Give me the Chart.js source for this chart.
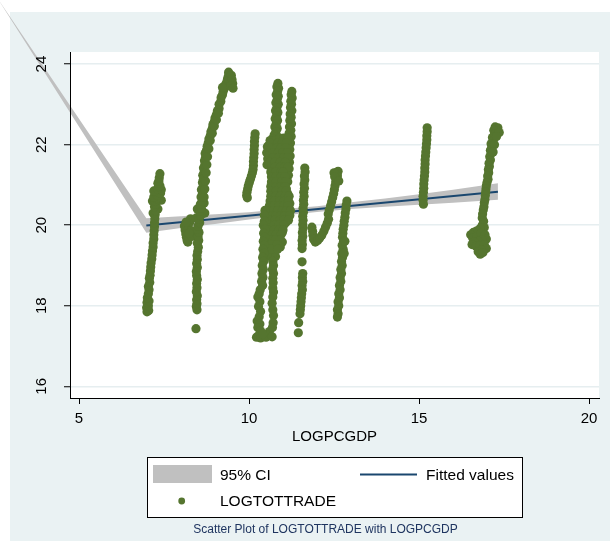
<!DOCTYPE html>
<html>
<head>
<meta charset="utf-8">
<script src="https://cdn.jsdelivr.net/npm/chart.js@4"></script>
<style>
  html, body { margin: 0; padding: 0; background: #ffffff; }
  #wrap { width: 610px; height: 541px; }
</style>
</head>
<body>
<div id="wrap"><canvas id="c" width="610" height="541"></canvas></div>
<script>
// Axis ticks
const xTicks = [5, 10, 15, 20];
const yTicks = [16, 18, 20, 22, 24];

// Linear fit of LOGTOTTRADE on LOGPCGDP
const fitX = [6.98, 17.32];
const fitY = [19.99, 20.83];

// 95% confidence band (first entry is the stray lead-in vertex of the band)
const ciX     = [2.55, 6.98, 8, 9, 10, 11, 12, 13, 14, 15, 16, 17.32];
const ciUpper = [25.70, 20.17, 20.22, 20.27, 20.32, 20.40, 20.47, 20.57, 20.66, 20.77, 20.88, 21.04];
const ciLower = [25.70, 19.81, 19.93, 20.03, 20.14, 20.24, 20.33, 20.40, 20.46, 20.51, 20.56, 20.63];

// Observations [LOGPCGDP, LOGTOTTRADE], grouped by income band
const tradeNear7 = [
  [7.00,17.85],[7.05,17.88],[6.99,17.95],[7.04,18.00],[7.00,18.08],[7.06,18.12],[7.01,18.20],[7.04,18.30],
  [7.06,18.40],[7.04,18.48],[7.08,18.58],[7.07,18.68],[7.09,18.76],[7.10,18.86],[7.11,18.96],[7.12,19.06],
  [7.14,19.16],[7.15,19.26],[7.16,19.36],[7.18,19.46],[7.18,19.56],[7.20,19.66],[7.20,19.76],[7.21,19.86],
  [7.22,19.96],[7.22,20.06],[7.23,20.16],[7.18,20.30],[7.24,20.26],[7.32,20.40],[7.25,20.36],[7.22,20.46],
  [7.26,20.52],[7.16,20.60],[7.42,20.62],[7.24,20.60],[7.28,20.66],[7.20,20.70],[7.30,20.74],[7.27,20.82],
  [7.40,20.80],[7.20,20.85],[7.42,20.88],[7.31,20.90],[7.34,20.96],[7.38,20.98],[7.32,21.04],[7.35,21.10],
  [7.36,21.18],[7.38,21.28]
];

const tradeNear8 = [
  [8.10,19.98],[8.12,19.88],[8.14,19.78],[8.16,19.70],[8.18,19.62],[8.20,19.58],[8.22,19.92],[8.26,20.08],
  [8.28,20.16],[8.30,19.86],[8.15,20.08],[8.32,19.72],[8.24,19.80],
  [8.44,17.43],[8.47,17.90],[8.45,17.98],[8.47,18.05],[8.46,18.15],[8.48,18.25],[8.45,18.35],[8.47,18.45],
  [8.46,18.55],[8.48,18.65],[8.46,18.75],[8.45,18.85],[8.48,18.95],[8.46,19.05],[8.48,19.15],[8.47,19.25],
  [8.49,19.35],[8.51,19.45],[8.48,19.55],[8.52,19.62],[8.50,19.72],[8.53,19.82],[8.49,19.90],
  [8.50,19.98],[8.55,20.06],[8.45,20.18],[8.52,20.15],[8.70,20.30],[8.58,20.24],[8.48,20.40],[8.55,20.34],
  [8.68,20.55],[8.60,20.42],[8.57,20.52],[8.62,20.60],[8.59,20.70],[8.63,20.78],[8.60,20.88],[8.65,20.96],
  [8.63,21.06],[8.66,21.14],[8.64,21.24],[8.68,21.32],[8.66,21.42],[8.70,21.50],[8.69,21.60],[8.72,21.68],
  [8.71,21.78],[8.75,21.86],[8.77,21.96],[8.80,22.04],[8.82,22.14],[8.86,22.22],[8.88,22.32],[8.92,22.40],
  [8.94,22.50],[8.98,22.57],[9.00,22.66],[9.04,22.74],[9.07,22.84],[9.12,22.90],[9.12,23.00],[9.17,23.07],
  [9.18,23.17],[9.22,23.24],[9.24,23.32],[9.28,23.40],[9.30,23.48],[9.34,23.54],[9.37,23.64],[9.40,23.72],
  [9.40,23.80],[9.48,23.72],[9.50,23.62],[9.52,23.52],[9.46,23.46],[9.53,23.40],[9.22,23.42],
  [8.68,20.70],[8.70,20.90],[8.72,21.10],[8.74,21.30],[8.76,21.50],[8.78,21.70],[8.82,21.90],[8.86,22.10],
  [8.92,22.28],[8.98,22.46],[9.04,22.62],[9.10,22.78]
];

const tradeNear10 = [
  [10.18,22.27],[10.17,22.18],[10.16,22.08],[10.16,21.98],[10.15,21.88],[10.15,21.78],[10.14,21.68],
  [10.13,21.58],[10.13,21.48],[10.12,21.38],[10.10,21.30],[10.07,21.22],[10.04,21.14],[10.01,21.06],
  [9.98,20.98],[9.96,20.90],[9.94,20.82],[9.93,20.74],[9.95,20.68]
];

const tradeNear11 = [
  [10.85,23.52],[10.82,23.44],[10.87,23.40],[10.84,23.32],[10.80,23.24],[10.86,23.20],[10.83,23.12],
  [10.79,23.04],[10.86,23.00],[10.82,22.92],[10.78,22.84],[10.85,22.80],[10.81,22.72],[10.77,22.64],
  [10.84,22.60],[10.80,22.52],[10.76,22.44],[10.83,22.40],[10.79,22.32],[10.74,22.24],[10.82,22.20],
  [10.70,22.15],[10.78,22.12],[10.68,22.05],
  [11.26,23.32],[11.24,23.24],[11.27,23.16],[11.23,23.08],[11.25,23.00],[11.22,22.92],[11.26,22.84],
  [11.21,22.76],[11.24,22.68],[11.20,22.60],[11.25,22.52],[11.19,22.44],[11.23,22.36],[11.18,22.28],
  [11.24,22.20],[11.17,22.12],[11.22,22.04],[11.15,21.96],[11.20,21.88],[11.14,21.80],[11.21,21.72],
  [11.13,21.64],[11.19,21.56],[11.12,21.48],[11.18,21.40],[11.10,21.32],[11.16,21.24],[11.08,21.16],
  [11.14,21.08],[11.06,21.00],
  [10.54,21.95],[10.52,21.80],[10.55,21.65],[10.53,21.50],
  [10.62,22.10],[10.75,22.10],[10.90,22.10],[11.05,22.10],
  [10.58,21.98],[10.72,21.98],[10.88,21.98],[11.02,21.98],[11.12,21.98],
  [10.64,21.86],[10.80,21.86],[10.95,21.86],[11.08,21.86],
  [10.60,21.74],[10.74,21.74],[10.90,21.74],[11.04,21.74],
  [10.66,21.62],[10.82,21.62],[10.97,21.62],[11.09,21.62],
  [10.70,21.50],[10.85,21.50],[11.00,21.50],
  [10.68,21.38],[10.82,21.38],[10.96,21.38],[11.06,21.38],
  [10.72,21.26],[10.88,21.26],[11.02,21.26],
  [10.70,21.14],[10.84,21.14],[10.98,21.14],
  [10.74,21.02],[10.90,21.02],[11.02,21.02],
  [10.71,20.90],[10.86,20.90],[11.00,20.90],[11.10,20.90],
  [10.72,20.78],[10.88,20.78],[11.04,20.78],[11.14,20.78],
  [10.70,20.66],[10.84,20.66],[10.98,20.66],[11.12,20.66],
  [10.68,20.54],[10.82,20.54],[10.96,20.54],[11.10,20.54],[11.20,20.54],
  [10.66,20.42],[10.80,20.42],[10.94,20.42],[11.08,20.42],[11.18,20.42],
  [10.62,20.30],[10.76,20.30],[10.90,20.30],[11.04,20.30],[11.16,20.30],
  [10.58,20.18],[10.72,20.18],[10.86,20.18],[11.00,20.18],[11.12,20.18],
  [10.55,20.06],[10.68,20.06],[10.82,20.06],[10.96,20.06],[11.08,20.06],
  [10.52,19.94],[10.66,19.94],[10.80,19.94],[10.94,19.94],
  [10.56,19.82],[10.70,19.82],[10.84,19.82],[10.98,19.82],
  [10.58,19.70],[10.72,19.70],[10.88,19.70],
  [10.55,19.58],[10.70,19.58],[10.85,19.58],[10.98,19.58],
  [10.60,19.46],[10.76,19.46],[10.92,19.46],
  [10.58,19.34],[10.74,19.34],
  [10.62,19.22],[10.78,19.22],
  [10.90,22.16],[11.02,22.16],[11.14,22.16],
  [10.64,22.04],[10.84,22.04],[10.98,22.04],[11.10,22.04],
  [10.66,21.92],[10.82,21.92],[10.94,21.92],[11.08,21.92],
  [10.70,21.80],[10.86,21.80],[10.99,21.80],[11.12,21.80],
  [10.72,21.68],[10.88,21.68],[11.02,21.68],[11.14,21.68],
  [10.62,21.56],[10.76,21.56],[10.92,21.56],[11.06,21.56],
  [10.76,21.44],[10.92,21.44],[11.04,21.44],[11.14,21.44],
  [10.64,21.32],[10.78,21.32],[10.94,21.32],[11.00,21.32],
  [10.66,21.20],[10.80,21.20],[10.94,21.20],[11.06,21.20],
  [10.66,21.08],[10.80,21.08],[10.96,21.08],[11.08,21.08],
  [10.64,20.96],[10.80,20.96],[10.94,20.96],[11.06,20.96],
  [10.64,20.84],[10.80,20.84],[10.96,20.84],[11.08,20.84],
  [10.64,20.72],[10.78,20.72],[10.92,20.72],[11.06,20.72],[11.18,20.72],
  [10.62,20.60],[10.76,20.60],[10.90,20.60],[11.04,20.60],[11.16,20.60],
  [10.60,20.48],[10.74,20.48],[10.88,20.48],[11.02,20.48],[11.14,20.48],
  [10.56,20.36],[10.70,20.36],[10.84,20.36],[10.98,20.36],[11.10,20.36],[11.22,20.36],
  [10.52,20.24],[10.66,20.24],[10.80,20.24],[10.94,20.24],[11.06,20.24],[11.20,20.24],
  [10.50,20.12],[10.62,20.12],[10.76,20.12],[10.90,20.12],[11.02,20.12],[11.16,20.12],
  [10.60,20.00],[10.74,20.00],[10.88,20.00],[11.02,20.00],
  [10.58,19.88],[10.74,19.88],[10.88,19.88],[11.00,19.88],
  [10.64,19.76],[10.80,19.76],[10.94,19.76],
  [10.62,19.64],[10.78,19.64],[10.92,19.64],
  [10.66,19.52],[10.82,19.52],
  [10.66,19.40],[10.84,19.40],
  [10.47,20.37],[10.45,20.25],
  [10.45,20.10],[10.42,20.00],[10.47,19.90],[10.43,19.80],[10.46,19.70],[10.42,19.60],[10.45,19.50],
  [10.41,19.40],[10.44,19.30],[10.40,19.20],[10.43,19.10],[10.39,19.00],[10.42,18.90],[10.38,18.80],
  [10.41,18.70],[10.37,18.60],[10.40,18.50],[10.33,18.40],[10.30,18.30],
  [10.26,18.22],[10.32,18.10],[10.28,17.98],[10.34,17.86],[10.30,17.73],[10.24,17.62],[10.32,17.55],
  [10.26,17.46],[10.34,17.38],[10.30,17.28],[10.22,17.22],[10.34,17.20],[10.56,17.28],[10.50,17.22],
  [10.60,17.36],[10.40,17.30],
  [10.70,19.10],[10.72,19.00],[10.69,18.90],[10.72,18.80],[10.70,18.68],[10.71,18.57],[10.70,18.44],
  [10.72,18.34],[10.70,18.22],[10.68,18.06],[10.70,17.90],[10.72,17.76],[10.71,17.58],[10.69,17.46],
  [10.68,17.23]
];

const tradeNear12 = [
  [11.64,21.42],[11.65,21.32],[11.63,21.22],[11.64,21.12],[11.62,21.02],[11.63,20.92],[11.61,20.82],
  [11.62,20.72],[11.60,20.62],[11.61,20.52],[11.59,20.42],[11.60,20.32],[11.58,20.22],[11.59,20.12],
  [11.58,20.02],[11.59,19.92],[11.57,19.82],[11.58,19.72],[11.56,19.62],[11.57,19.52],[11.56,19.42],
  [11.56,19.09],
  [11.58,18.80],[11.57,18.70],[11.58,18.60],[11.56,18.50],[11.57,18.40],[11.55,18.30],[11.54,18.20],
  [11.53,18.10],[11.52,18.00],[11.51,17.90],[11.50,17.80],[11.46,17.58],[11.45,17.33],
  [11.85,19.95],[11.87,19.85],[11.88,19.75],[11.90,19.65],[11.95,19.58],[12.02,19.62],[12.08,19.68],
  [12.14,19.75],[12.20,19.85],[12.25,19.95],[12.30,20.05],[12.34,20.15],
  [12.33,20.28],[12.36,20.38],[12.40,20.48],[12.43,20.58],[12.46,20.68],[12.49,20.78],[12.51,20.88],
  [12.53,20.98],[12.55,21.08],[12.57,21.18],[12.59,21.28],[12.62,21.34],[12.56,21.30],[12.60,21.22],
  [12.50,21.30],[12.52,21.20],[12.64,21.10],
  [12.88,20.60],[12.86,20.50],[12.85,20.40],[12.83,20.30],[12.82,20.20],[12.80,20.10],[12.79,20.00],
  [12.77,19.90],[12.76,19.80],[12.75,19.70],[12.78,19.60],[12.74,19.50],[12.77,19.40],[12.73,19.30],
  [12.75,19.20],[12.72,19.10],[12.74,19.00],[12.70,18.90],[12.72,18.80],[12.68,18.70],[12.70,18.60],
  [12.66,18.50],[12.68,18.40],[12.64,18.30],[12.66,18.20],[12.62,18.10],[12.64,18.00],[12.60,17.90],
  [12.62,17.80],[12.60,17.72],[12.82,19.60],[12.80,19.30]
];

const tradeNear15 = [
  [15.24,22.42],[15.24,22.32],[15.23,22.22],[15.23,22.12],[15.22,22.02],[15.21,21.92],[15.20,21.82],
  [15.19,21.72],[15.18,21.62],[15.18,21.52],[15.17,21.42],[15.17,21.32],[15.16,21.22],[15.15,21.12],
  [15.14,21.02],[15.14,20.92],[15.13,20.82],[15.12,20.72],[15.12,20.62],[15.13,20.52]
];

const tradeNear17 = [
  [17.32,22.42],[17.24,22.44],[17.30,22.34],[17.20,22.36],[17.22,22.26],[17.16,22.18],[17.18,22.10],
  [17.12,22.02],[17.14,21.94],[17.10,21.86],[17.12,21.78],[17.08,21.70],[17.10,21.62],[17.06,21.54],
  [17.07,21.46],[17.04,21.38],[17.05,21.30],[17.02,21.22],[17.03,21.14],[17.00,21.06],[16.98,20.98],
  [16.97,20.90],[16.96,20.82],[16.95,20.74],[16.94,20.64],[16.92,20.56],[16.91,20.46],[16.89,20.38],
  [16.87,20.28],[16.86,20.18],
  [17.36,22.30],[17.28,22.20],[17.22,22.00],[17.18,21.82],
  [16.90,20.10],[16.86,20.00],[16.92,19.94],[16.80,19.92],[16.70,19.86],[16.60,19.82],[16.52,19.76],
  [16.58,19.68],[16.70,19.72],[16.82,19.80],[16.94,19.76],[16.98,19.66],[16.86,19.64],[16.74,19.60],
  [16.62,19.58],[16.56,19.52],[16.68,19.48],[16.80,19.50],[16.92,19.52],[16.98,19.42],[16.84,19.38],
  [16.74,19.34],[16.80,19.28],[16.88,19.32]
];

const captionText = 'Scatter Plot of LOGTOTTRADE with LOGPCGDP';

const GREEN = '#55752f';
const NAVY = '#1a476f';
const CI_GRAY = '#c0c0c0';
const PANEL = '#eaf2f3';
const FONT = '"Liberation Sans", Arial, Helvetica, sans-serif';

const trade = [].concat(tradeNear7, tradeNear8, tradeNear10, tradeNear11, tradeNear12, tradeNear15, tradeNear17)
  .map(([x, y]) => ({ x, y }));

// Graph region and white plot region
const backdrop = {
  id: 'backdrop',
  beforeDraw(chart) {
    const { ctx, chartArea: a } = chart;
    ctx.save();
    ctx.fillStyle = '#ffffff';
    ctx.fillRect(0, 0, chart.width, chart.height);
    ctx.fillStyle = PANEL;
    ctx.fillRect(10, 12, chart.width - 10, chart.height - 12);
    ctx.fillStyle = '#ffffff';
    ctx.fillRect(a.left, a.top, a.right - a.left, a.bottom - a.top);
    ctx.restore();
  }
};

// Confidence band polygon, not clipped to the plot region
const ciBand = {
  id: 'ciBand',
  beforeDatasetsDraw(chart) {
    const { ctx, scales: { x, y } } = chart;
    ctx.save();
    ctx.beginPath();
    ciX.forEach((v, i) => {
      const px = x.getPixelForValue(v), py = y.getPixelForValue(ciUpper[i]);
      if (i === 0) ctx.moveTo(px, py); else ctx.lineTo(px, py);
    });
    for (let i = ciX.length - 1; i >= 0; i--) {
      ctx.lineTo(x.getPixelForValue(ciX[i]), y.getPixelForValue(ciLower[i]));
    }
    ctx.closePath();
    ctx.fillStyle = CI_GRAY;
    ctx.fill();
    ctx.restore();
  }
};

// Framed legend and caption under the plot
const legendBox = {
  id: 'legendBox',
  afterDraw(chart) {
    const ctx = chart.ctx;
    ctx.save();
    ctx.fillStyle = '#ffffff';
    ctx.fillRect(147, 457, 375, 60);
    ctx.strokeStyle = '#000000';
    ctx.lineWidth = 1;
    ctx.strokeRect(147.5, 457.5, 375, 60);

    ctx.fillStyle = CI_GRAY;
    ctx.fillRect(153, 465, 59, 18);

    ctx.strokeStyle = NAVY;
    ctx.lineWidth = 2;
    ctx.beginPath();
    ctx.moveTo(360, 474.5);
    ctx.lineTo(417, 474.5);
    ctx.stroke();

    ctx.fillStyle = GREEN;
    ctx.beginPath();
    ctx.arc(181.7, 501, 3.4, 0, Math.PI * 2);
    ctx.fill();

    ctx.fillStyle = '#000000';
    ctx.font = '15.5px ' + FONT;
    ctx.textAlign = 'left';
    ctx.textBaseline = 'middle';
    ctx.fillText('95% CI', 220, 475.5);
    ctx.fillText('Fitted values', 426, 475.5);
    ctx.fillText('LOGTOTTRADE', 220, 502);

    ctx.fillStyle = '#1f3560';
    ctx.font = '12px ' + FONT;
    ctx.textAlign = 'center';
    ctx.fillText(captionText, 325.5, 529.5);
    ctx.restore();
  }
};

new Chart(document.getElementById('c'), {
  type: 'scatter',
  data: {
    datasets: [
      {
        label: 'Fitted values',
        data: fitX.map((x, i) => ({ x, y: fitY[i] })),
        showLine: true,
        borderColor: NAVY,
        borderWidth: 2,
        pointRadius: 0,
        pointHoverRadius: 0,
        order: 2
      },
      {
        label: 'LOGTOTTRADE',
        data: trade,
        backgroundColor: GREEN,
        borderWidth: 0,
        pointRadius: 4.6,
        pointHoverRadius: 4.6,
        order: 1
      }
    ]
  },
  options: {
    responsive: false,
    animation: false,
    devicePixelRatio: 1,
    events: [],
    layout: { padding: { left: 10, right: 11, top: 52, bottom: 93 } },
    plugins: {
      legend: { display: false },
      tooltip: { enabled: false },
      title: { display: false }
    },
    scales: {
      x: {
        type: 'linear',
        min: 4.735,
        max: 20.294,
        afterBuildTicks: s => { s.ticks = xTicks.map(v => ({ value: v })); },
        afterFit: s => { s.height = 50; },
        grid: { drawOnChartArea: false, drawTicks: true, tickLength: 6, tickColor: '#000000', tickWidth: 1 },
        border: { display: true, color: '#000000', width: 1 },
        ticks: {
          color: '#000000',
          font: { family: FONT, size: 15 },
          padding: 6,
          maxRotation: 0,
          callback: v => String(v)
        },
        title: {
          display: true,
          text: 'LOGPCGDP',
          color: '#000000',
          font: { family: FONT, size: 15 },
          padding: { top: 0, bottom: 2 }
        }
      },
      y: {
        type: 'linear',
        min: 15.71,
        max: 24.3,
        afterBuildTicks: s => { s.ticks = yTicks.map(v => ({ value: v })); },
        afterFit: s => { s.width = 60; },
        grid: { color: '#e6eef0', lineWidth: 1.5, drawTicks: true, tickLength: 6, tickColor: '#000000', tickWidth: 1 },
        border: { display: true, color: '#000000', width: 1, z: 1 },
        ticks: {
          color: '#000000',
          font: { family: FONT, size: 15 },
          padding: 14,
          minRotation: 90,
          maxRotation: 90,
          crossAlign: 'center',
          z: 1,
          callback: v => String(v)
        }
      }
    }
  },
  plugins: [backdrop, ciBand, legendBox]
});
</script>
</body>
</html>
